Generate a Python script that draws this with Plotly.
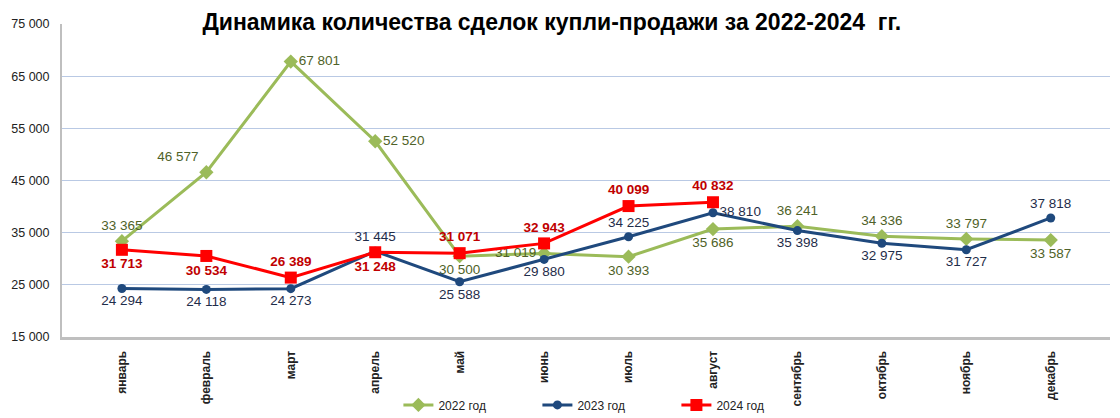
import plotly.graph_objects as go

months = ["январь", "февраль", "март", "апрель", "май", "июнь", "июль",
          "август", "сентябрь", "октябрь", "ноябрь", "декабрь"]

y2022 = [33365, 46577, 67801, 52520, 30500, 31019, 30393, 35686, 36241, 34336, 33797, 33587]
y2023 = [24294, 24118, 24273, 31445, 25588, 29880, 34225, 38810, 35398, 32975, 31727, 37818]
y2024 = [31713, 30534, 26389, 31248, 31071, 32943, 40099, 40832]

pos2022 = ["top center", "top left", "middle right", "middle right", "bottom center", "middle left",
           "bottom center", "bottom center", "top center", "top center", "top center", "bottom center"]
pos2023 = ["bottom center", "bottom center", "bottom center", "top center", "bottom center", "bottom center",
           "top center", "middle right", "bottom center", "bottom center", "bottom center", "top center"]
pos2024 = ["bottom center", "bottom center", "top center", "bottom center", "top center", "top center",
           "top center", "top center"]

font = "Liberation Sans, Arial, sans-serif"

fig = go.Figure()
fig.add_trace(go.Scatter(
    x=months, y=y2022, name="2022 год", mode="lines+markers+text",
    line=dict(color="#9BBB59", width=3),
    marker=dict(symbol="diamond", size=11, color="#9BBB59"),
    texttemplate="%{y:,}", textposition=pos2022,
    textfont=dict(family=font, size=13.5, color="#4F6228"),
))
fig.add_trace(go.Scatter(
    x=months, y=y2023, name="2023 год", mode="lines+markers+text",
    line=dict(color="#1F497D", width=3),
    marker=dict(symbol="circle", size=9, color="#1F497D"),
    texttemplate="%{y:,}", textposition=pos2023,
    textfont=dict(family=font, size=13.5, color="#1F2D4A"),
))
fig.add_trace(go.Scatter(
    x=months[:len(y2024)], y=y2024, name="2024 год", mode="lines+markers+text",
    line=dict(color="#FF0000", width=3),
    marker=dict(symbol="square", size=12, color="#FF0000"),
    texttemplate="<b>%{y:,}</b>", textposition=pos2024,
    textfont=dict(family=font, size=13.5, color="#C00000"),
))

# the page puts the figure 8px in from the top-left corner
fig.update_layout(
    width=1112, height=410,
    margin=dict(l=54, r=10, t=16, b=81, autoexpand=False),
    paper_bgcolor="white", plot_bgcolor="white",
    separators=". ",
    title=dict(text="<b>Динамика количества сделок купли-продажи за 2022-2024  гг.</b>",
               x=0.489, xanchor="center", y=0.966, yanchor="middle",
               font=dict(family=font, size=23, color="black")),
    legend=dict(orientation="h", x=0.321, xanchor="left", y=-0.217, yanchor="middle",
                bgcolor="rgba(0,0,0,0)",
                font=dict(family="Liberation Sans Narrow, Arial Narrow, sans-serif", size=12, color="#222"),
                entrywidth=94, entrywidthmode="pixels", tracegroupgap=0),
    showlegend=True,
)
fig.update_yaxes(range=[15000, 75000], tick0=15000, dtick=10000, tickformat=",", automargin=False,
                 gridcolor="#B9C9E4", gridwidth=1, showline=True, linecolor="#BFBFBF", linewidth=2,
                 zeroline=False, ticks="", ticklabelstandoff=8,
                 tickfont=dict(family=font, size=12.5, color="#222"))
fig.update_xaxes(tickangle=-90, showgrid=False, showline=True, linecolor="#BFBFBF", linewidth=3,
                 ticklabelstandoff=6, automargin=False,
                 tickfont=dict(family=font, size=12, color="#222", weight="bold"), ticks="")

fig.write_html("out.html")
